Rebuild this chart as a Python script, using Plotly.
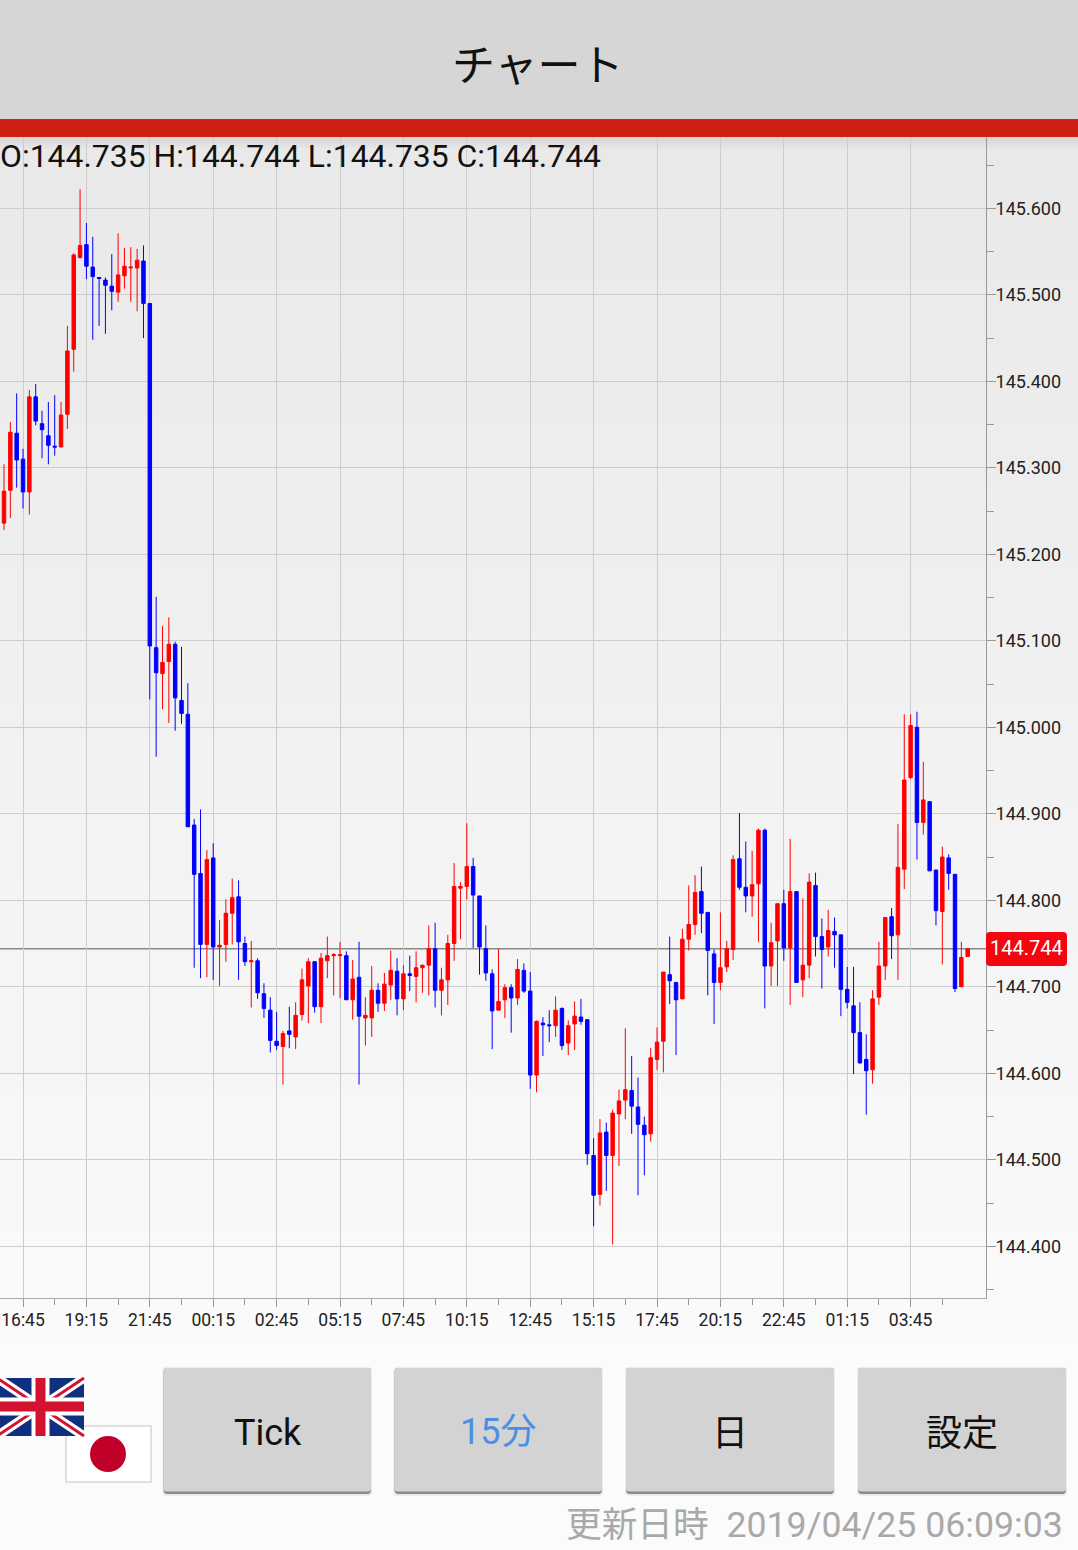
import plotly.graph_objects as go

W, H = 1078, 1550

# 15 minute USD/JPY style bars
bar_index = list(range(-4, 150))
opens = [
    145.251, 145.236, 145.274, 145.340, 145.310, 145.272, 145.382, 145.351, 145.337, 145.325,
    145.324, 145.362, 145.437, 145.543, 145.558, 145.532, 145.520, 145.517, 145.510, 145.503,
    145.522, 145.531, 145.531, 145.539, 145.490, 145.092, 145.062, 145.076, 145.096, 145.031,
    145.015, 144.887, 144.831, 144.749, 144.849, 144.746, 144.749, 144.785, 144.804, 144.750,
    144.729, 144.730, 144.692, 144.673, 144.637, 144.631, 144.649, 144.642, 144.668, 144.701,
    144.729, 144.677, 144.730, 144.736, 144.736, 144.736, 144.685, 144.711, 144.664, 144.664,
    144.696, 144.681, 144.702, 144.718, 144.686, 144.715, 144.712, 144.722, 144.725, 144.744,
    144.696, 144.708, 144.750, 144.814, 144.816, 144.839, 144.805, 144.744, 144.715, 144.673,
    144.685, 144.699, 144.687, 144.719, 144.695, 144.598, 144.658, 144.656, 144.655, 144.675,
    144.635, 144.657, 144.665, 144.662, 144.505, 144.460, 144.532, 144.505, 144.553, 144.569,
    144.580, 144.561, 144.540, 144.530, 144.616, 144.637, 144.714, 144.705, 144.686, 144.755,
    144.772, 144.810, 144.786, 144.738, 144.705, 144.723, 144.743, 144.848, 144.815, 144.805,
    144.819, 144.881, 144.724, 144.753, 144.796, 144.745, 144.810, 144.708, 144.725, 144.817,
    144.758, 144.746, 144.764, 144.760, 144.697, 144.678, 144.647, 144.616, 144.604, 144.688,
    144.724, 144.781, 144.760, 144.836, 144.942, 145.000, 144.890, 144.914, 144.835, 144.787,
    144.849, 144.830, 144.700, 144.735,
]
highs = [
    145.251, 145.304, 145.353, 145.386, 145.322, 145.390, 145.397, 145.366, 145.376, 145.384,
    145.376, 145.464, 145.548, 145.622, 145.583, 145.567, 145.520, 145.520, 145.547, 145.571,
    145.554, 145.555, 145.553, 145.557, 145.490, 145.151, 145.117, 145.127, 145.099, 145.093,
    145.051, 144.894, 144.905, 144.858, 144.866, 144.777, 144.801, 144.825, 144.823, 144.758,
    144.753, 144.733, 144.704, 144.688, 144.671, 144.649, 144.677, 144.682, 144.721, 144.733,
    144.729, 144.739, 144.758, 144.739, 144.752, 144.741, 144.731, 144.752, 144.688, 144.724,
    144.704, 144.716, 144.742, 144.733, 144.725, 144.736, 144.741, 144.725, 144.771, 144.774,
    144.722, 144.760, 144.843, 144.821, 144.889, 144.849, 144.805, 144.771, 144.720, 144.744,
    144.703, 144.703, 144.732, 144.727, 144.717, 144.661, 144.665, 144.673, 144.689, 144.676,
    144.661, 144.683, 144.686, 144.662, 144.525, 144.547, 144.543, 144.558, 144.581, 144.652,
    144.620, 144.595, 144.550, 144.629, 144.653, 144.717, 144.758, 144.705, 144.767, 144.817,
    144.829, 144.839, 144.786, 144.743, 144.786, 144.753, 144.852, 144.901, 144.868, 144.857,
    144.883, 144.883, 144.774, 144.796, 144.812, 144.871, 144.810, 144.802, 144.831, 144.832,
    144.779, 144.789, 144.780, 144.760, 144.723, 144.723, 144.682, 144.645, 144.696, 144.752,
    144.780, 144.791, 144.888, 145.015, 145.015, 145.018, 144.960, 144.914, 144.835, 144.862,
    144.853, 144.830, 144.752, 144.744,
]
lows = [
    145.225, 145.228, 145.242, 145.277, 145.253, 145.246, 145.349, 145.311, 145.304, 145.314,
    145.324, 145.345, 145.411, 145.542, 145.518, 145.448, 145.464, 145.455, 145.482, 145.492,
    145.507, 145.492, 145.481, 145.450, 145.032, 144.966, 145.021, 145.005, 144.996, 145.004,
    144.885, 144.722, 144.710, 144.711, 144.708, 144.701, 144.729, 144.749, 144.708, 144.724,
    144.676, 144.686, 144.664, 144.624, 144.627, 144.587, 144.629, 144.628, 144.661, 144.658,
    144.670, 144.658, 144.710, 144.690, 144.687, 144.685, 144.662, 144.587, 144.632, 144.642,
    144.671, 144.672, 144.685, 144.667, 144.673, 144.695, 144.682, 144.693, 144.690, 144.676,
    144.667, 144.679, 144.730, 144.755, 144.801, 144.745, 144.714, 144.707, 144.628, 144.673,
    144.664, 144.647, 144.679, 144.693, 144.582, 144.578, 144.620, 144.636, 144.642, 144.627,
    144.621, 144.627, 144.656, 144.494, 144.423, 144.447, 144.464, 144.402, 144.493, 144.547,
    144.530, 144.459, 144.482, 144.521, 144.604, 144.601, 144.680, 144.621, 144.686, 144.742,
    144.760, 144.762, 144.690, 144.657, 144.696, 144.717, 144.731, 144.812, 144.786, 144.781,
    144.752, 144.675, 144.701, 144.701, 144.730, 144.679, 144.705, 144.688, 144.710, 144.735,
    144.698, 144.735, 144.722, 144.666, 144.675, 144.599, 144.611, 144.552, 144.588, 144.679,
    144.708, 144.732, 144.708, 144.813, 144.940, 144.847, 144.876, 144.834, 144.771, 144.726,
    144.812, 144.694, 144.700, 144.735,
]
closes = [
    145.227, 145.273, 145.341, 145.309, 145.272, 145.382, 145.354, 145.344, 145.326, 145.324,
    145.361, 145.435, 145.546, 145.557, 145.533, 145.521, 145.519, 145.511, 145.504, 145.523,
    145.533, 145.532, 145.540, 145.490, 145.094, 145.063, 145.075, 145.096, 145.034, 145.016,
    144.885, 144.830, 144.749, 144.847, 144.746, 144.748, 144.785, 144.803, 144.752, 144.729,
    144.730, 144.693, 144.675, 144.638, 144.632, 144.646, 144.645, 144.667, 144.708, 144.729,
    144.677, 144.733, 144.736, 144.737, 144.737, 144.685, 144.709, 144.666, 144.667, 144.696,
    144.681, 144.703, 144.719, 144.686, 144.715, 144.713, 144.722, 144.725, 144.744, 144.696,
    144.708, 144.750, 144.816, 144.816, 144.839, 144.806, 144.746, 144.716, 144.672, 144.683,
    144.699, 144.687, 144.720, 144.695, 144.598, 144.660, 144.656, 144.655, 144.673, 144.632,
    144.655, 144.666, 144.660, 144.507, 144.459, 144.531, 144.505, 144.554, 144.568, 144.581,
    144.562, 144.541, 144.529, 144.618, 144.636, 144.717, 144.707, 144.685, 144.755, 144.772,
    144.809, 144.785, 144.742, 144.705, 144.722, 144.744, 144.847, 144.815, 144.805, 144.818,
    144.881, 144.724, 144.751, 144.796, 144.745, 144.810, 144.705, 144.725, 144.821, 144.758,
    144.743, 144.765, 144.760, 144.697, 144.682, 144.647, 144.612, 144.603, 144.686, 144.724,
    144.780, 144.759, 144.838, 144.939, 145.002, 144.890, 144.916, 144.834, 144.788, 144.850,
    144.831, 144.698, 144.734, 144.744,
]
tick_bars = list(range(0, 150, 10))
tick_labels = ['16:45', '19:15', '21:45', '00:15', '02:45', '05:15', '07:45', '10:15',
               '12:45', '15:15', '17:45', '20:15', '22:45', '01:15', '03:45']
minor_bars = list(range(5, 150, 10))
last_price = 144.744
info_text = 'O:144.735 H:144.744 L:144.735 C:144.744'
button_labels = ['Tick', '15分', '日', '設定']
updated_text = '更新日時\u00a0\u00a02019/04/25 06:09:03'

CJK = 'Noto Sans CJK JP'
ROBOTO = 'Roboto'


# page pixels -> paper fractions, everything outside the plot is laid out in pixels
def px(x):
    return x / W


def py(y):
    return 1 - y / H


def rect(x0, y0, x1, y1, color):
    return dict(type='rect', xref='paper', yref='paper', x0=px(x0), x1=px(x1), y0=py(y0), y1=py(y1),
                fillcolor=color, line_width=0, layer='below')


def round_rect(x0, y0, x1, y1, r, color, layer='below'):
    path = (f'M {px(x0 + r)} {py(y0)} L {px(x1 - r)} {py(y0)} Q {px(x1)} {py(y0)} {px(x1)} {py(y0 + r)} '
            f'L {px(x1)} {py(y1 - r)} Q {px(x1)} {py(y1)} {px(x1 - r)} {py(y1)} '
            f'L {px(x0 + r)} {py(y1)} Q {px(x0)} {py(y1)} {px(x0)} {py(y1 - r)} '
            f'L {px(x0)} {py(y0 + r)} Q {px(x0)} {py(y0)} {px(x0 + r)} {py(y0)} Z')
    return dict(type='path', xref='paper', yref='paper', path=path, fillcolor=color, line_width=0, layer=layer)


def line(x0, y0, x1, y1, color, width):
    return dict(type='line', xref='paper', yref='paper', x0=px(x0), x1=px(x1), y0=py(y0), y1=py(y1),
                line=dict(color=color, width=width), layer='below')


def label(x, y, text, size, color='#111111', family=CJK, anchor='center'):
    return dict(xref='paper', yref='paper', x=px(x), y=py(y), text=text, showarrow=False,
                xanchor=anchor, yanchor='middle', borderpad=0, borderwidth=0,
                font=dict(size=size, color=color, family=family))


shapes = []

# page background fades from light grey to almost white
steps = 40
for n in range(steps):
    top = 137 + n * (H - 137) / steps
    bottom = 137 + (n + 1) * (H - 137) / steps
    level = int(233 + (251 - 233) * min(1, n / (steps * 0.85)))
    shapes.append(rect(0, top, W, bottom + 1, f'rgb({level},{level},{level})'))

# shadow under the red bar
for n in range(12):
    level = 214 + n * 19 / 12
    shapes.append(rect(0, 137 + n, W, 138 + n, f'rgb({int(level)},{int(level)},{int(level)})'))

shapes.append(rect(0, 0, W, 119, '#d6d6d6'))
shapes.append(rect(0, 119, W, 137, '#cf2113'))

# buttons
button_x = [(163.5, 371), (394.5, 602), (626, 834), (858, 1066)]
for x0, x1 in button_x:
    shapes.append(round_rect(x0 - 1, 1367, x1 + 1, 1496, 4, '#ececec'))
    shapes.append(round_rect(x0, 1368, x1, 1494, 4, '#8a8a8a'))
    shapes.append(round_rect(x0, 1368, x1, 1491.5, 3, '#d3d3d3'))

# japanese flag
shapes.append(rect(65, 1425, 152, 1483, '#e0e0e0'))
shapes.append(rect(67, 1427, 150, 1481, '#ffffff'))
shapes.append(dict(type='circle', xref='paper', yref='paper', x0=px(90), x1=px(126), y0=py(1436), y1=py(1472),
                   fillcolor='#c1002a', line_width=0, layer='below'))

# british flag, left edge runs off the page
flag_l, flag_t, flag_r, flag_b = -3, 1378, 84, 1436
flag_cx, flag_cy = 40.5, 1406.5
shapes.append(rect(flag_l, flag_t, flag_r, flag_b, '#10307f'))
shapes.append(line(flag_l, flag_t, flag_r, flag_b, '#ffffff', 9))
shapes.append(line(flag_l, flag_b, flag_r, flag_t, '#ffffff', 9))
shapes.append(line(flag_l, flag_t, flag_r, flag_b, '#d3122f', 3))
shapes.append(line(flag_l, flag_b, flag_r, flag_t, '#d3122f', 3))
shapes.append(rect(flag_cx - 9, flag_t, flag_cx + 9, flag_b, '#ffffff'))
shapes.append(rect(flag_l, flag_cy - 9, flag_r, flag_cy + 9, '#ffffff'))
shapes.append(rect(flag_cx - 5, flag_t, flag_cx + 5, flag_b, '#d3122f'))
shapes.append(rect(flag_l, flag_cy - 5, flag_r, flag_cy + 5, '#d3122f'))

# current price line and its badge
shapes.append(dict(type='line', xref='paper', yref='y', x0=0, x1=px(986), y0=last_price, y1=last_price,
                   line=dict(color='#888888', width=1.6), layer='below'))
shapes.append(round_rect(986, 932, 1067, 966, 4, '#f4050f', layer='above'))

annotations = [
    label(537.5, 62, 'チャート', 43),
    label(0, 156, info_text, 31.9, family=ROBOTO, anchor='left'),
    label(1026.5, 948, f'{last_price:.3f}', 20, color='#ffffff', family=ROBOTO),
    label(267.5, 1432.5, button_labels[0], 36, family=ROBOTO),
    label(498, 1432, button_labels[1], 36, color='#4a90e2', family=ROBOTO + ', ' + CJK),
    label(730, 1429.5, button_labels[2], 36),
    label(962, 1429.5, button_labels[3], 36),
    label(1063, 1525, updated_text, 35.7, color='#a9a9a9', family=ROBOTO + ', ' + CJK, anchor='right'),
]

fig = go.Figure(go.Candlestick(
    x=bar_index, open=opens, high=highs, low=lows, close=closes,
    increasing=dict(line=dict(color='#ff0000', width=1), fillcolor='#ff0000'),
    decreasing=dict(line=dict(color='#0000ff', width=1), fillcolor='#0000ff'),
    whiskerwidth=0, hoverinfo='skip', showlegend=False,
))

fig.update_xaxes(
    domain=[0, 986 / W],
    range=[-3.63, 151.89],
    rangeslider_visible=False,
    tickmode='array', tickvals=tick_bars, ticktext=tick_labels,
    showgrid=True, gridcolor='#cdcdcd', gridwidth=1, zeroline=False,
    showline=True, linecolor='#aaaaaa', linewidth=1,
    ticks='outside', ticklen=8, tickcolor='#999999', tickwidth=1,
    minor=dict(tickmode='array', tickvals=minor_bars, ticks='outside', ticklen=6, tickcolor='#999999',
               showgrid=False),
    ticklabelstandoff=-2,
    tickfont=dict(family=ROBOTO, size=17.5, color='#222222'),
)
fig.update_yaxes(
    domain=[1 - 1298 / H, 1 - 137 / H],
    range=[144.3402, 145.6824],
    side='right',
    tick0=144.4, dtick=0.1, tickformat='.3f',
    showgrid=True, gridcolor='#cdcdcd', gridwidth=1, zeroline=False,
    showline=True, linecolor='#999999', linewidth=1,
    ticks='outside', ticklen=9, tickcolor='#999999', tickwidth=1,
    minor=dict(dtick=0.05, tick0=144.4, ticks='outside', ticklen=7, tickcolor='#999999', showgrid=False),
    ticklabelstandoff=-4,
    tickfont=dict(family=ROBOTO, size=18, color='#222222'),
)
fig.update_layout(
    width=W, height=H,
    margin=dict(l=0, r=0, t=0, b=0),
    paper_bgcolor='#ffffff', plot_bgcolor='rgba(0,0,0,0)',
    shapes=shapes, annotations=annotations,
    hovermode=False, showlegend=False,
    boxgap=0.22,
)

fig.write_html("out.html", config=dict(displayModeBar=False),
               post_script="document.body.style.margin='0';document.body.style.overflow='hidden';")
